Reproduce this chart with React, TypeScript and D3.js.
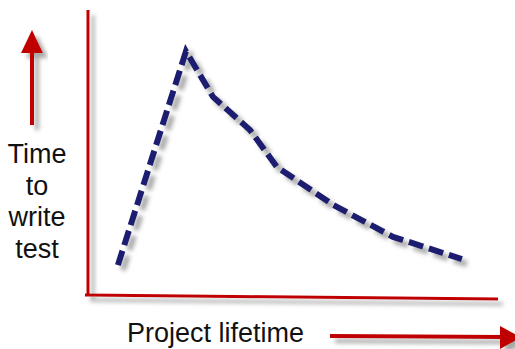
import React from "react";
import * as d3 from "d3";

const lifetime = [7.3, 23.9, 30.5, 39.5, 46.1, 59.8, 74.4, 91.2];
const testTime = [10.5, 85.5, 69.5, 57.9, 44.9, 31.6, 20.4, 12.6];
const yLabelLines = ["Time", "to", "write", "test"];
const xLabel = "Project lifetime";

const W = 515;
const H = 349;

export default function App() {
  const x = d3.scaleLinear().domain([0, 100]).range([88, 498]);
  const y = d3.scaleLinear().domain([0, 100]).range([295, 10]);
  const pts: [number, number][] = lifetime.map((v, i) => [x(v), y(testTime[i])]);
  const line = d3.line().curve(d3.curveLinear)(pts) || "";
  const red = "#c00000";
  const font = "'Liberation Sans', Arial, sans-serif";

  return (
    <svg width={W} height={H} style={{ position: "absolute", left: 0, top: 0, background: "#fff" }}>
      <defs>
        <filter id="sh" x="-20%" y="-20%" width="140%" height="140%">
          <feDropShadow dx="5" dy="5" stdDeviation="2" floodColor="#8a8a8a" floodOpacity="0.75" />
        </filter>
      </defs>
      {/* axes */}
      <g filter="url(#sh)">
        <line x1={x(0)} y1={y(100)} x2={x(0)} y2={y(0)} stroke={red} strokeWidth={3} />
        <line x1={x(0) - 3} y1={y(0)} x2={x(100)} y2={y(0) + 4} stroke={red} strokeWidth={3} />
      </g>
      {/* up arrow */}
      <g filter="url(#sh)">
        <line x1={32} y1={125} x2={32} y2={50} stroke={red} strokeWidth={4} />
        <path d="M32,30 L43,53 L21,53 Z" fill={red} />
      </g>
      {/* right arrow */}
      <g filter="url(#sh)">
        <line x1={330} y1={336} x2={502} y2={337} stroke={red} strokeWidth={4} />
        <path d="M500,326 L521,337.5 L500,349 Z" fill={red} />
      </g>
      {/* data line */}
      <path
        d={line}
        fill="none"
        stroke="#1a1f6f"
        strokeWidth={6}
        strokeDasharray="15 6"
        strokeLinejoin="miter"
        filter="url(#sh)"
      />
      {/* y label */}
      {yLabelLines.map((t, i) => (
        <text
          key={t}
          x={37}
          y={163 + i * 31.5}
          textAnchor="middle"
          fontFamily={font}
          fontSize={27}
          fill="#111"
        >
          {t}
        </text>
      ))}
      <text x={127} y={342} fontFamily={font} fontSize={27} fill="#111">
        {xLabel}
      </text>
    </svg>
  );
}
